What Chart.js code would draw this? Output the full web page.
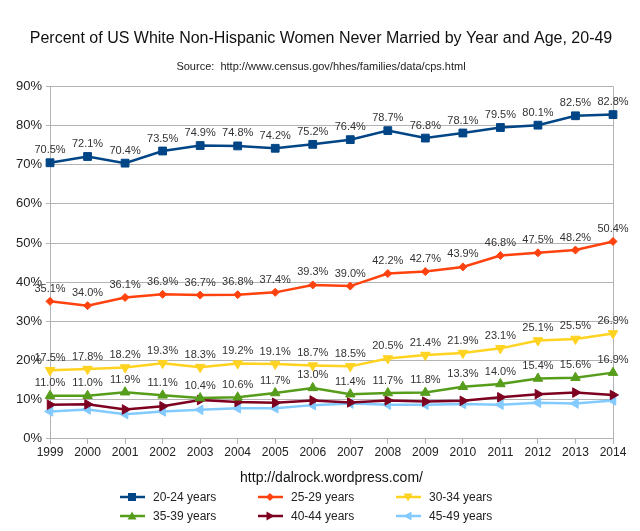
<!DOCTYPE html>
<html>
<head>
<meta charset="utf-8">
<script src="https://cdn.jsdelivr.net/npm/chart.js@4.4.1/dist/chart.umd.min.js"></script>
<style>
  html, body { margin: 0; padding: 0; background: #fff; }
  #wrap { position: relative; width: 640px; height: 531px; }
  #c { position: absolute; left: 0; top: 0; }
  .lg { position: absolute; font: 12px "Liberation Sans", Arial, sans-serif; color: #222; display: flex; align-items: center; white-space: nowrap; }
  .lg svg { margin-right: 8px; }
</style>
</head>
<body>
<div id="wrap">
  <canvas id="c" width="640" height="531"></canvas>
  <div id="legend"></div>
</div>
<script>
const years = ['1999','2000','2001','2002','2003','2004','2005','2006','2007','2008','2009','2010','2011','2012','2013','2014'];
const age2024 = [70.5,72.1,70.4,73.5,74.9,74.8,74.2,75.2,76.4,78.7,76.8,78.1,79.5,80.1,82.5,82.8];
const age2529 = [35.1,34.0,36.1,36.9,36.7,36.8,37.4,39.3,39.0,42.2,42.7,43.9,46.8,47.5,48.2,50.4];
const age3034 = [17.5,17.8,18.2,19.3,18.3,19.2,19.1,18.7,18.5,20.5,21.4,21.9,23.1,25.1,25.5,26.9];
const age3539 = [11.0,11.0,11.9,11.1,10.4,10.6,11.7,13.0,11.4,11.7,11.8,13.3,14.0,15.4,15.6,16.9];
const age4044 = [8.7,8.8,7.5,8.3,9.9,9.4,9.2,9.8,9.3,9.8,9.5,9.7,10.6,11.4,11.8,11.2];
const age4549 = [7.0,7.5,6.3,7.0,7.4,7.8,7.8,8.6,9.0,8.7,8.7,8.9,8.7,9.2,9.0,9.8];
const seriesNames = ['20-24 years','25-29 years','30-34 years','35-39 years','40-44 years','45-49 years'];
const yTicks = [0,10,20,30,40,50,60,70,80,90];

const FONT = '"Liberation Sans", Arial, sans-serif';
const styles = [
  {color:'#004586', point:'rect', rot:0, r:5.5, labels:true},
  {color:'#ff420e', point:'rectRot', rot:0, r:4, labels:true},
  {color:'#ffd320', point:'triangle', rot:180, r:5.5, labels:true},
  {color:'#579d1c', point:'triangle', rot:0, r:5.5, labels:true},
  {color:'#7e0021', point:'triangle', rot:90, r:5.5, labels:false},
  {color:'#83caff', point:'triangle', rot:-90, r:5.5, labels:false}
];
const allData = [age2024, age2529, age3034, age3539, age4044, age4549];

const datasets = allData.map((d, i) => ({
  label: seriesNames[i],
  data: d,
  borderColor: styles[i].color,
  backgroundColor: styles[i].color,
  borderWidth: 2.5,
  pointStyle: styles[i].point,
  pointRotation: styles[i].rot,
  pointRadius: styles[i].r,
  pointHoverRadius: styles[i].r,
  pointBorderWidth: 1,
  tension: 0,
  showLabels: styles[i].labels
}));

const labelPlugin = {
  id: 'valueLabels',
  afterDatasetsDraw(chart) {
    const ctx = chart.ctx;
    ctx.save();
    ctx.font = '11px ' + FONT;
    ctx.fillStyle = '#333';
    ctx.textAlign = 'center';
    ctx.textBaseline = 'bottom';
    chart.data.datasets.forEach((ds, i) => {
      if (!ds.showLabels) return;
      const meta = chart.getDatasetMeta(i);
      meta.data.forEach((pt, j) => {
        ctx.fillText(ds.data[j].toFixed(1) + '%', pt.x, pt.y - 7);
      });
    });
    ctx.restore();
  }
};

const chart = new Chart(document.getElementById('c'), {
  type: 'line',
  data: { labels: years, datasets },
  options: {
    responsive: false,
    animation: false,
    devicePixelRatio: 1,
    layout: { padding: { left: 12, right: 10, top: 8, bottom: 44 } },
    plugins: {
      legend: { display: false },
      tooltip: { enabled: false },
      title: {
        display: true,
        text: 'Percent of US White Non-Hispanic Women Never Married by Year and Age, 20-49',
        font: { family: FONT, size: 16, weight: 'normal' },
        color: '#111',
        padding: { top: 21, bottom: 12 }
      },
      subtitle: {
        display: true,
        text: 'Source:  http://www.census.gov/hhes/families/data/cps.html',
        font: { family: FONT, size: 11, weight: 'normal' },
        color: '#222',
        padding: { top: 0, bottom: 13 }
      }
    },
    scales: {
      x: {
        offset: false,
        afterFit: (s) => { s.paddingRight = 27; },
        grid: {
          color: (c) => (c.index === 0 || c.index === years.length - 1) ? '#b3b3b3' : 'rgba(0,0,0,0)',
          tickColor: '#b3b3b3',
          tickLength: 5,
          drawTicks: true
        },
        border: { color: '#b3b3b3' },
        ticks: { font: { family: FONT, size: 12 }, color: '#222', maxRotation: 0, autoSkip: false, padding: 2 },
        title: {
          display: true,
          text: 'http://dalrock.wordpress.com/',
          font: { family: FONT, size: 14 },
          color: '#111',
          padding: { top: 8, bottom: 0 }
        }
      },
      y: {
        min: 0,
        max: 90,
        afterBuildTicks: (axis) => { axis.ticks = yTicks.map(v => ({ value: v })); },
        grid: { color: '#b3b3b3', tickColor: '#b3b3b3', tickLength: 4 },
        border: { color: '#b3b3b3' },
        ticks: { font: { family: FONT, size: 13 }, color: '#222', padding: 4, callback: (v) => v + '%' }
      }
    }
  },
  plugins: [labelPlugin]
});

// HTML legend
const legendPos = [
  {x:120, y:490}, {x:258, y:490}, {x:396, y:490},
  {x:120, y:509}, {x:258, y:509}, {x:396, y:509}
];
const legendEl = document.getElementById('legend');
function markerSvg(i) {
  const s = styles[i];
  const c = s.color;
  let shape = '';
  const cx = 12, cy = 7;
  if (s.point === 'rect') shape = `<rect x="${cx-4}" y="${cy-4}" width="8" height="8" fill="${c}"/>`;
  else if (s.point === 'rectRot') shape = `<polygon points="${cx},${cy-4} ${cx+4},${cy} ${cx},${cy+4} ${cx-4},${cy}" fill="${c}"/>`;
  else {
    shape = `<polygon points="${cx},${cy-4.5} ${cx+4.5},${cy+3.5} ${cx-4.5},${cy+3.5}" fill="${c}" transform="rotate(${s.rot} ${cx} ${cy})"/>`;
  }
  return `<svg width="25" height="14"><line x1="0" y1="${cy}" x2="25" y2="${cy}" stroke="${c}" stroke-width="2.5"/>${shape}</svg>`;
}
seriesNames.forEach((n, i) => {
  const d = document.createElement('div');
  d.className = 'lg';
  d.style.left = legendPos[i].x + 'px';
  d.style.top = legendPos[i].y + 'px';
  d.innerHTML = markerSvg(i) + '<span>' + n + '</span>';
  legendEl.appendChild(d);
});
</script>
</body>
</html>
